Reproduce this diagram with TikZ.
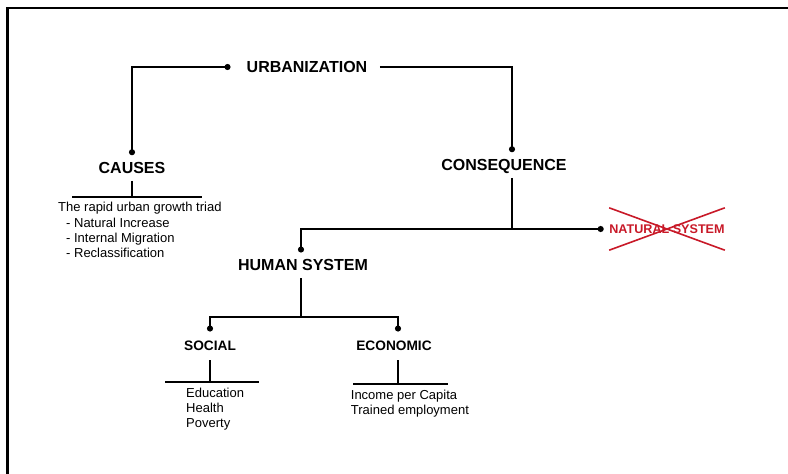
\documentclass[tikz,border=0pt]{standalone}
\usepackage{fontspec}
\setmainfont{Liberation Sans}
\usetikzlibrary{arrows.meta}
\definecolor{crossred}{RGB}{200,25,40}

\begin{document}
\begin{tikzpicture}[x=1pt,y=-1pt,
		head/.style={font=\bfseries\fontsize{16}{19}\selectfont, text depth=0pt, inner xsep=0pt, inner ysep=7pt},
		subhead/.style={font=\bfseries\fontsize{13.7}{16}\selectfont, text depth=0pt, inner xsep=0pt, inner ysep=9.5pt},
		listtext/.style={font=\fontsize{13}{15.2}\selectfont, align=left, anchor=north west, inner sep=0pt},
		link/.style={line width=2pt},
		dotend/.style={-{Circle[length=6pt]}},
		dotboth/.style={{Circle[length=6pt]}-{Circle[length=6pt]}},
		cross/.style={crossred, line width=1.6pt}]
			%%%%% START %%%%%
			\useasboundingbox (0,0) rectangle (788,474);
			\draw[line width=2.2pt] (7.5,474) -- (7.5,8) -- (788,8);
			
			\node[head] (urb) at (307,67) {URBANIZATION};
			\node[head] (causes) at (132,168) {CAUSES};
			\node[head] (conseq) at (504,165) {CONSEQUENCE};
			\node[head] (human) at (303,265.3) {HUMAN SYSTEM};
			\node[font=\bfseries\fontsize{12.6}{15}\selectfont, text=crossred, inner sep=0pt, minimum height=42pt] (natural) at (667,229) {NATURAL SYSTEM};
			\node[subhead] (social) at (210,346) {SOCIAL};
			\node[subhead] (econ) at (394,346) {ECONOMIC};
			
			\node[listtext] (causeslist) at (58,202.3) {The rapid urban growth triad\\
				\hspace*{8pt}- Natural Increase\\
				\hspace*{8pt}- Internal Migration\\
				\hspace*{8pt}- Reclassification};
			\node[listtext, font=\fontsize{13}{15}\selectfont] (sociallist) at (186,388.2) {Education\\Health\\Poverty};
			\node[listtext, font=\fontsize{13}{15}\selectfont] (econlist) at (350.7,389.4) {Income per Capita\\Trained employment};
			
			\coordinate (cbar) at (132,197);
			\coordinate (hsplit) at (301,317);
			\coordinate (sbar) at (210,382);
			\coordinate (ebar) at (398,384);
			
			% top branches
			\draw[link, dotboth] ([xshift=-16pt]urb.west) -| (causes.north);
			\draw[link, dotend] ([xshift=12.5pt]urb.east) -| ([xshift=8pt]conseq.north);
			
			% causes
			\draw[link] (causes.south) -- (cbar);
			\draw[link] ([xshift=-60pt]cbar) -- ([xshift=70pt]cbar);
			
			% consequence
			\draw[link, dotboth] ([xshift=-2pt]human.north) |- ([xshift=-5.5pt]natural.west);
			\draw[link] ([xshift=8pt]conseq.south) -- ([xshift=8pt]conseq.south |- natural.west);
			\draw[cross] (natural.north west) -- (natural.south east);
			\draw[cross] (natural.south west) -- (natural.north east);
			
			% human system
			\draw[link] ([xshift=-2pt]human.south) -- (hsplit);
			\draw[link, dotboth] (social.north) |- (hsplit) -| ([xshift=4pt]econ.north);
			
			\draw[link] (social.south) -- (sbar);
			\draw[link] ([xshift=-45pt]sbar) -- ([xshift=49pt]sbar);
			
			\draw[link] ([xshift=4pt]econ.south) -- (ebar);
			\draw[link] ([xshift=-45pt]ebar) -- ([xshift=50pt]ebar);
			%%%%% END %%%%%
\end{tikzpicture}
\end{document}
